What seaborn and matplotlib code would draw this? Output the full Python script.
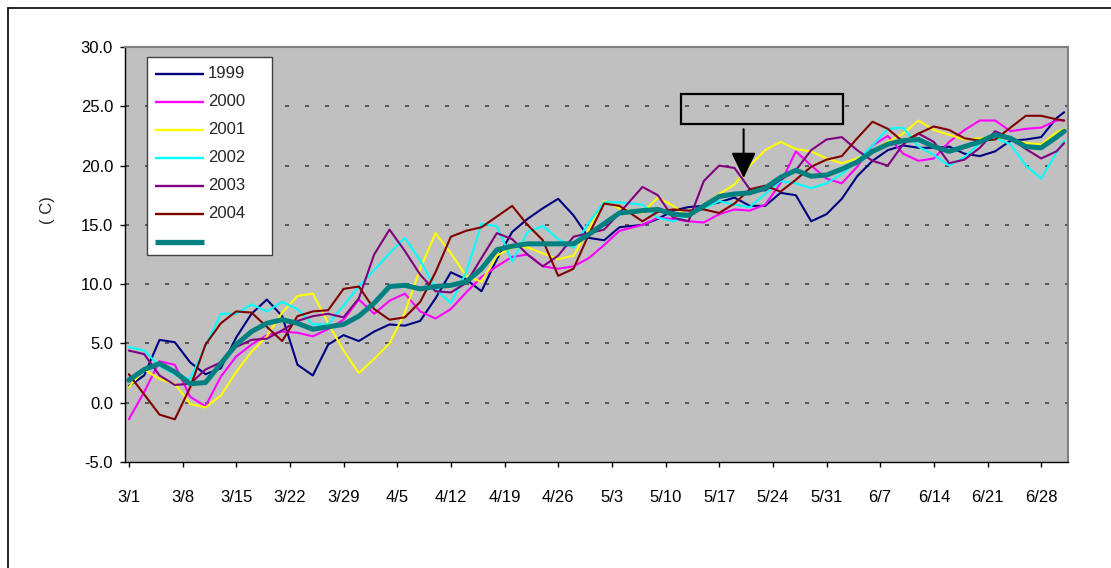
import numpy as np
import pandas as pd
import seaborn as sns
import matplotlib.pyplot as plt
from matplotlib.patches import Rectangle
from matplotlib.lines import Line2D
from matplotlib.ticker import FormatStrFormatter

sns.set_style("white")
plt.rcParams["font.family"] = ["Liberation Sans", "DejaVu Sans"]
plt.rcParams["axes.unicode_minus"] = False
plt.rcParams["lines.scale_dashes"] = False

# day number counted from 3/1, read every other day
day = list(range(0, 65, 2)) + list(range(67, 122, 2)) + [122]

t1999 = [1.4, 2.3, 5.3, 5.1, 3.4, 2.4, 2.9, 5.5, 7.5, 8.7, 7.3, 3.2, 2.3, 4.9, 5.7, 5.2,
         6.0, 6.6, 6.5, 6.9, 8.8, 11.0, 10.4, 9.4, 12.1, 14.4, 15.5, 16.4, 17.2, 15.8, 13.9,
         13.7, 14.8, 15.0, 15.5, 16.2, 16.5, 16.6, 16.9, 17.3, 16.6, 16.6, 17.7, 17.5, 15.3,
         15.9, 17.2, 19.1, 20.4, 21.3, 21.7, 21.5, 21.5, 21.6, 21.0, 20.8, 21.2, 22.1, 22.2,
         22.4, 24.0, 24.5]
t2000 = [-1.4, 0.9, 3.5, 3.2, 0.5, -0.3, 2.2, 3.9, 4.9, 5.7, 6.0, 5.9, 5.6, 6.2, 7.0, 8.7,
         7.5, 8.6, 9.2, 7.7, 7.1, 7.9, 9.3, 10.6, 11.5, 12.3, 12.5, 11.5, 11.3, 11.5, 12.2,
         13.3, 14.5, 15.0, 15.6, 15.5, 15.3, 15.2, 15.9, 16.3, 16.2, 16.7, 18.5, 21.2, 20.0,
         18.9, 18.5, 19.9, 21.7, 22.5, 21.0, 20.4, 20.6, 22.0, 23.0, 23.8, 23.8, 22.9, 23.1,
         23.2, 23.8, 23.8]
t2001 = [1.3, 2.8, 2.0, 1.6, -0.1, -0.4, 0.6, 2.6, 4.3, 5.6, 7.6, 9.0, 9.2, 6.7, 4.4, 2.5,
         3.7, 5.0, 7.6, 11.3, 14.3, 12.6, 10.7, 10.2, 12.4, 13.1, 13.1, 12.6, 12.1, 12.4, 14.6,
         17.0, 16.4, 16.0, 17.3, 16.6, 15.6, 16.7, 17.6, 18.4, 20.0, 21.3, 22.0, 21.4, 21.2,
         20.6, 20.2, 20.6, 21.3, 22.0, 22.7, 23.8, 23.0, 22.6, 22.2, 22.3, 22.4, 22.2, 21.9,
         21.8, 22.8, 23.1]
t2002 = [4.7, 4.4, 3.1, 2.4, 2.0, 4.8, 7.5, 7.5, 8.3, 7.7, 8.5, 7.9, 6.6, 6.6, 8.2, 9.8,
         11.2, 12.6, 13.9, 12.0, 9.6, 8.4, 11.0, 15.1, 14.9, 11.9, 14.4, 14.9, 13.8, 13.1, 15.2,
         16.9, 16.9, 16.7, 15.6, 15.3, 15.8, 16.4, 17.0, 16.7, 16.5, 17.6, 18.7, 18.5, 18.1,
         18.5, 19.3, 20.4, 21.7, 23.1, 23.2, 21.6, 20.9, 20.0, 20.7, 21.9, 22.3, 21.8, 20.0,
         18.9, 21.1, 22.1]
t2003 = [4.4, 4.1, 2.3, 1.5, 1.6, 2.8, 3.4, 4.7, 5.3, 5.4, 6.1, 6.9, 7.3, 7.5, 7.2, 8.8,
         12.5, 14.6, 12.8, 10.8, 9.4, 9.3, 10.1, 12.2, 14.3, 13.8, 12.5, 11.5, 12.4, 14.0, 14.3,
         14.6, 16.0, 18.2, 17.5, 15.6, 15.3, 18.7, 20.0, 19.8, 18.0, 17.9, 18.8, 19.6, 21.3,
         22.2, 22.4, 21.3, 20.4, 20.0, 21.8, 22.7, 22.0, 20.2, 20.5, 21.5, 22.9, 22.3, 21.4,
         20.6, 21.2, 21.9]
t2004 = [2.4, 0.7, -1.0, -1.4, 1.3, 4.9, 6.7, 7.7, 7.6, 6.4, 5.2, 7.3, 7.7, 7.8, 9.6, 9.8,
         7.9, 7.0, 7.2, 8.5, 11.0, 14.0, 14.5, 14.8, 15.7, 16.6, 15.0, 13.7, 10.7, 11.3, 14.2,
         16.8, 16.6, 15.3, 16.1, 16.3, 16.2, 16.3, 16.0, 16.8, 18.0, 18.3, 17.8, 18.8, 19.9,
         20.5, 20.8, 22.3, 23.7, 23.1, 22.0, 22.7, 23.3, 23.0, 22.3, 22.1, 22.2, 23.2, 24.2,
         24.2, 23.9, 23.8]
t_avg = [1.9, 2.8, 3.3, 2.6, 1.6, 1.7, 3.3, 4.9, 6.0, 6.7, 7.0, 6.7, 6.2, 6.4, 6.6, 7.3,
         8.4, 9.8, 9.9, 9.6, 9.8, 9.9, 10.2, 11.3, 12.9, 13.2, 13.4, 13.4, 13.4, 13.4, 14.2,
         15.1, 16.0, 16.2, 16.3, 15.9, 15.8, 16.6, 17.4, 17.6, 17.7, 18.1, 19.0, 19.6, 19.1,
         19.2, 19.7, 20.3, 21.2, 21.8, 22.1, 22.2, 21.6, 21.2, 21.6, 22.0, 22.6, 22.3, 21.6,
         21.5, 22.4, 22.9]

series_names = ["1999", "2000", "2001", "2002", "2003", "2004", "avg"]
legend_labels = ["1999", "2000", "2001", "2002", "2003", "2004", ""]
series_values = [t1999, t2000, t2001, t2002, t2003, t2004, t_avg]
colors = ["#000080", "#FF00FF", "#FFFF00", "#00FFFF", "#800080", "#800000", "#008080"]
widths = [1.5, 1.5, 1.5, 1.5, 1.5, 1.5, 3.6]

tick_labels = ["3/1", "3/8", "3/15", "3/22", "3/29", "4/5", "4/12", "4/19", "4/26",
               "5/3", "5/10", "5/17", "5/24", "5/31", "6/7", "6/14", "6/21", "6/28"]
n_days = 123

df = pd.concat([pd.DataFrame({"day": day, "temp": v, "series": n})
                for n, v in zip(series_names, series_values)], ignore_index=True)

fig, ax = plt.subplots(figsize=(11.11, 5.68), dpi=100)
fig.subplots_adjust(left=125/1111, right=1068/1111, top=1-47/568, bottom=1-462/568)
ax.set_facecolor("#C0C0C0")

sns.lineplot(data=df, x="day", y="temp", hue="series", hue_order=series_names,
             palette=dict(zip(series_names, colors)), size="series",
             sizes=dict(zip(series_names, widths)), estimator=None, sort=False,
             legend=False, ax=ax)
for line in ax.lines:
    line.set_solid_joinstyle("round")

ax.set_xlim(-0.5, n_days - 0.5)
ax.set_ylim(-5, 30)
ax.set_yticks(np.arange(-5, 31, 5))
ax.yaxis.set_major_formatter(FormatStrFormatter("%.1f"))
ax.set_xticks(np.arange(0, 7 * len(tick_labels), 7))
ax.set_xticklabels(tick_labels)
ax.set_xlabel("")
ax.set_ylabel("")

for v in [0, 5, 10, 15, 20, 25]:
    ax.axhline(v, color="#505050", lw=1.3, ls=(0, (2.9, 11.5)), zorder=0.5)

ax.tick_params(axis="both", direction="out", length=3.6, width=1, color="black",
               labelsize=12, labelcolor="black")
ax.tick_params(axis="x", pad=16.5)
ax.tick_params(axis="y", pad=5)
ax.tick_params(left=True, bottom=True)

for s in ["left", "bottom"]:
    ax.spines[s].set_color("black")
    ax.spines[s].set_linewidth(1.0)
for s in ["top", "right"]:
    ax.spines[s].set_color("#808080")
    ax.spines[s].set_linewidth(1.5)

ax.text(-0.082, 0.607, "( C)", rotation=90, transform=ax.transAxes,
        ha="center", va="center", fontsize=12)

# legend box
ax.add_patch(Rectangle((0.0236, 0.499), 0.1326, 0.476, transform=ax.transAxes,
                       facecolor="white", edgecolor="#404040", lw=1.0, zorder=5))
row_y = np.linspace(0.935, 0.531, len(series_names))
for y, lab, c, w in zip(row_y, legend_labels, colors, widths):
    ax.add_line(Line2D([0.0318, 0.0838], [y, y], transform=ax.transAxes, color=c,
                       lw=w + 0.2, solid_capstyle="butt", zorder=6))
    ax.text(0.088, y, lab, transform=ax.transAxes, ha="left", va="center",
            fontsize=12, zorder=6)

# callout box with arrow
ax.add_patch(Rectangle((0.590, 0.814), 0.171, 0.073, transform=ax.transAxes,
                       fill=False, edgecolor="black", lw=1.6, zorder=5))
ax.annotate("", xy=(0.656, 0.684), xytext=(0.656, 0.802), xycoords="axes fraction",
            arrowprops=dict(arrowstyle="-|>,head_length=1.58,head_width=0.76",
                            mutation_scale=10, lw=1.5, color="black",
                            shrinkA=0, shrinkB=0), zorder=6)

# outer chart frame (top and left edges visible)
fig.add_artist(Line2D([8/1111, 1], [1 - 8/568, 1 - 8/568], color="black", lw=1.2))
fig.add_artist(Line2D([8/1111, 8/1111], [0, 1 - 8/568], color="black", lw=1.2))

fig.savefig("out.png", dpi=100)
